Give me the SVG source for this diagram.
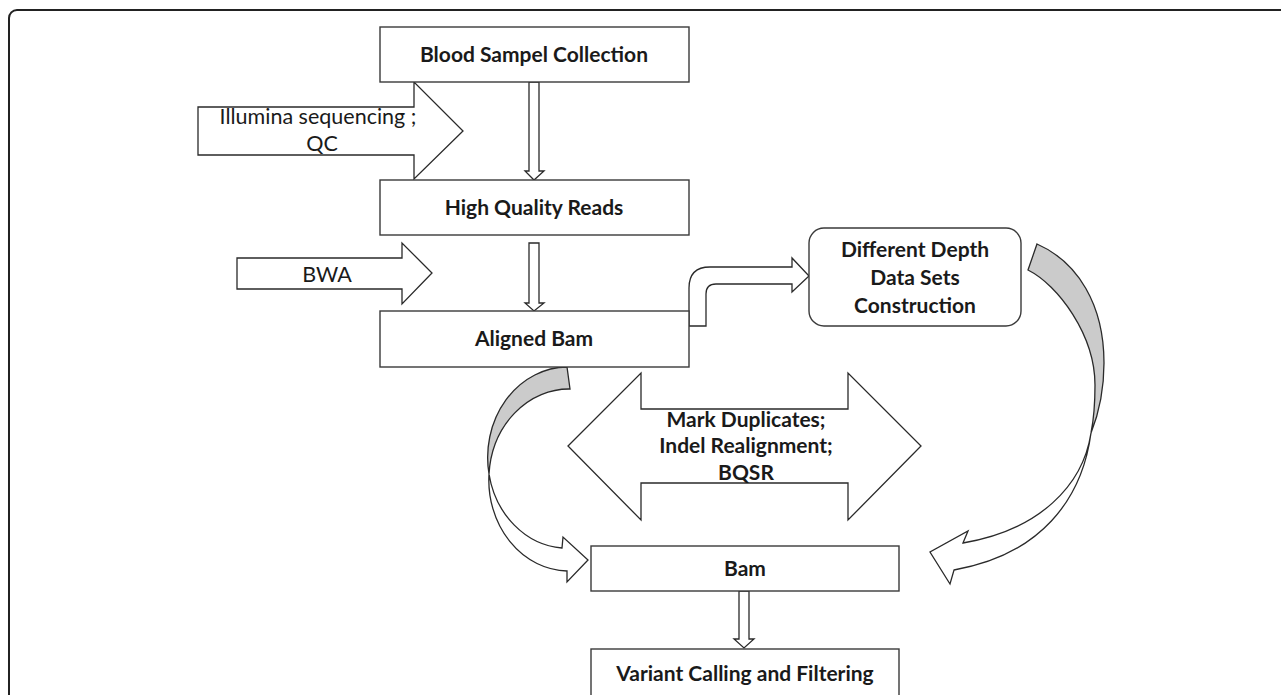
<svg xmlns="http://www.w3.org/2000/svg" width="1281" height="695" viewBox="0 0 1281 695">
<style>
.box{fill:#fff;stroke:#3a3a3a;stroke-width:1.4}
.arr{fill:#fff;stroke:#2a2a2a;stroke-width:1.3;stroke-linejoin:miter}
.back{fill:#cbcbcb;stroke:#2a2a2a;stroke-width:1.3}
.t{font-family:Lato,"Liberation Sans",sans-serif;font-size:21.5px;fill:#1a1a1a;text-anchor:middle}
.b{font-weight:bold;font-size:21px}
</style>
<rect width="1281" height="695" fill="#fff"/>
<rect x="9" y="10" width="1300" height="720" rx="8" fill="none" stroke="#222" stroke-width="2"/>

<g id="connectors">
  <path class="arr" d="M529,82 L539,82 L539,171 L544,171 L534,180 L525,171 L529,171 Z"/>
  <path class="arr" d="M529,243 L539,243 L539,303 L544,303 L534,311 L525,303 L529,303 Z"/>
  <path class="arr" d="M739,591 L749,591 L749,639 L754,639 L744,648 L734,639 L739,639 Z"/>
  <path class="arr" d="M689,326 L689,288 Q689,267 710,267 L792,267 L792,258 L809,276 L792,292 L792,284 L716,284 Q706,284 706,294 L706,326 Z"/>
  <g id="curve-left">
    <path class="back" d="M567,367 A80,90.5 0 0 0 489,474 A80,91 0 0 1 570,389 Z"/>
    <path class="arr" d="M489,474 A80,90.5 0 0 0 562,548 L563,537 L588,560 L567,582 L567,571 A80,91 0 0 1 489,474 Z"/>
  </g>
  <g id="curve-right">
    <path class="back" d="M1037,244 C1078,262 1104,305 1104,363 C1104,390 1099,413 1091,433 C1094,418 1095,402 1095,385 C1095,335 1058,285 1028,270 Z"/>
    <path class="arr" d="M1091,433 C1083,485 1040,530 963,543 L968,531 L930,552 L950,584 L954,570 C1040,555 1082,500 1091,433 Z"/>
  </g>
</g>

<g id="illumina">
  <path class="arr" d="M198,107 L414,107 L414,82 L463,131 L414,179 L414,155 L198,155 Z"/>
  <text class="t" x="318" y="124">Illumina sequencing ;</text>
  <text class="t" x="322" y="151">QC</text>
</g>
<g id="bwa">
  <path class="arr" d="M237,258 L402,258 L402,243 L432,273 L402,304 L402,289 L237,289 Z"/>
  <text class="t" x="327" y="282">BWA</text>
</g>
<g id="processing">
  <path class="arr" d="M568,446 L641,373 L641,409 L848,409 L848,373 L921,446 L848,520 L848,483 L641,483 L641,520 Z"/>
  <text class="t b" x="746" y="427">Mark Duplicates;</text>
  <text class="t b" x="746" y="453">Indel Realignment;</text>
  <text class="t b" x="746" y="480">BQSR</text>
</g>

<g id="blood">
  <rect class="box" x="380" y="27" width="309" height="55"/>
  <text class="t b" x="534" y="62">Blood Sampel Collection</text>
</g>
<g id="hq">
  <rect class="box" x="380" y="180" width="309" height="55"/>
  <text class="t b" x="534" y="215">High Quality Reads</text>
</g>
<g id="aligned">
  <rect class="box" x="380" y="311" width="309" height="56"/>
  <text class="t b" x="534" y="346">Aligned Bam</text>
</g>
<g id="depth">
  <rect class="box" x="809" y="228" width="212" height="98" rx="15"/>
  <text class="t b" x="915" y="257">Different Depth</text>
  <text class="t b" x="915" y="285">Data Sets</text>
  <text class="t b" x="915" y="313">Construction</text>
</g>
<g id="bam">
  <rect class="box" x="591" y="546" width="308" height="45"/>
  <text class="t b" x="745" y="576">Bam</text>
</g>
<g id="variant">
  <rect class="box" x="591" y="649" width="308" height="60"/>
  <text class="t b" x="745" y="681">Variant Calling and Filtering</text>
</g>
</svg>
